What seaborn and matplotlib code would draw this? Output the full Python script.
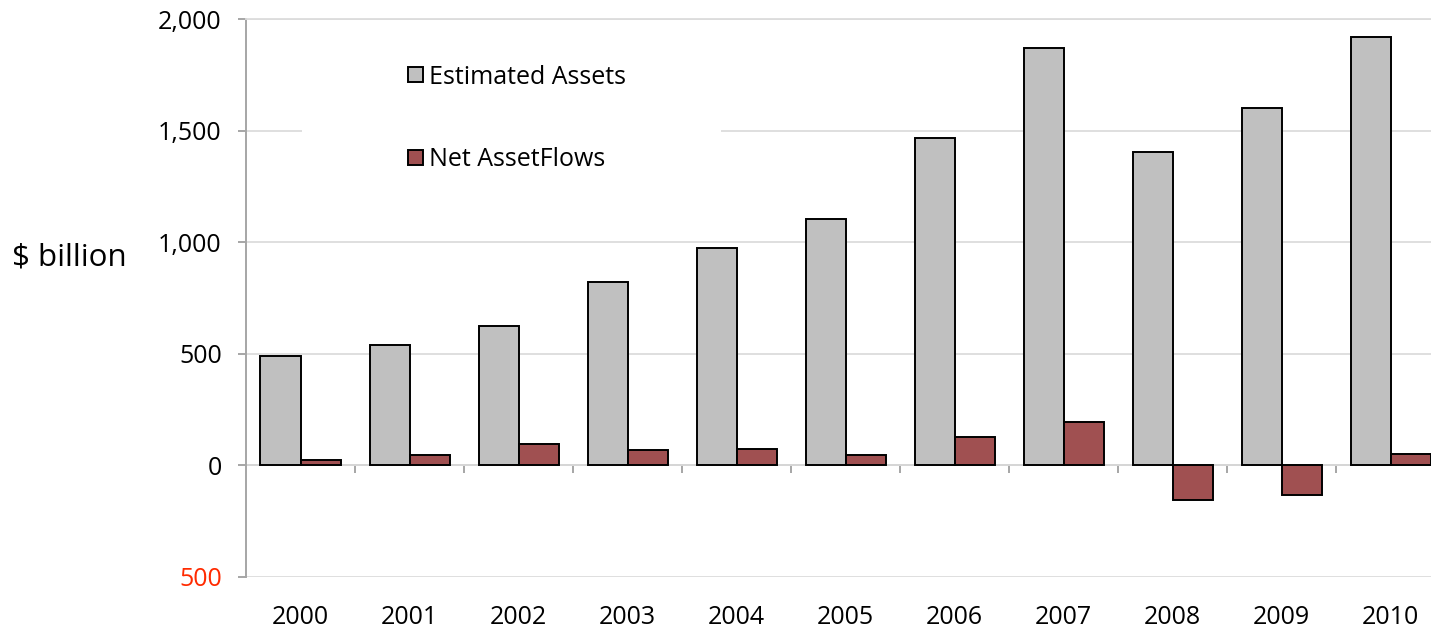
import matplotlib
matplotlib.use("Agg")
import matplotlib.pyplot as plt
import matplotlib.ticker as mticker
from matplotlib.path import Path
import seaborn as sns
import pandas as pd

years = ["2000", "2001", "2002", "2003", "2004", "2005",
         "2006", "2007", "2008", "2009", "2010"]
estimated_assets = [490, 540, 625, 820, 975, 1105, 1465, 1870, 1405, 1600, 1920]
net_asset_flows = [22, 45, 98, 71, 73, 45, 126, 193, -157, -132, 51]
series_names = ["Estimated Assets", "Net AssetFlows"]
y_ticks = [-500, 0, 500, 1000, 1500, 2000]

df = pd.DataFrame({
    "year": years * 2,
    "value": estimated_assets + net_asset_flows,
    "series": [series_names[0]] * len(years) + [series_names[1]] * len(years),
})

sns.set_theme(style="white")
plt.rcParams["font.family"] = ["Open Sans", "DejaVu Sans"]
plt.rcParams["text.color"] = "black"

GRID = "#DCDCDC"
AXIS = "#A6A6A6"

fig = plt.figure(figsize=(14.31, 6.31), dpi=100)
ax = fig.add_axes([246 / 1431, 54 / 631, 1 - 246 / 1431, 558 / 631])

palette = {series_names[0]: "#C0C0C0", series_names[1]: "#A05051"}
sns.barplot(data=df, x="year", y="value", hue="series", palette=palette,
            width=0.734, gap=0, edgecolor="black", linewidth=1.4,
            saturation=1, ax=ax, zorder=3)

ax.set_ylim(-500, 2000)
ax.set_xlim(-0.5, 10.37)
ax.set_yticks(y_ticks)
ax.yaxis.set_major_formatter(mticker.FuncFormatter(lambda v, p: f"{abs(v):,.0f}"))
ax.grid(axis="y", color=GRID, linewidth=1.3, zorder=0)
ax.grid(axis="x", visible=False)
ax.set_xlabel("")
ax.set_ylabel("")

# top edge doubles as the 2,000 gridline so it stays above the legend box
ax.spines["top"].set_color(GRID)
ax.spines["top"].set_linewidth(1.3)
for side in ["right", "bottom"]:
    ax.spines[side].set_visible(False)
ax.spines["left"].set_color(AXIS)
ax.spines["left"].set_linewidth(1.4)

ax.tick_params(axis="y", which="major", left=True, length=6, width=1.4,
               color=AXIS, labelsize=18, pad=11.5, labelcolor="black")
for lbl, v in zip(ax.get_yticklabels(), y_ticks):
    if v < 0:
        lbl.set_color("#FF2A00")

# year labels below the plot, without tick marks
ax.tick_params(axis="x", which="major", bottom=True, length=0,
               labelsize=18, pad=20, labelcolor="black")

# zero line carrying the category boundary ticks
zero_axis = ax.secondary_xaxis(0.2)
zero_axis.spines["bottom"].set_color(AXIS)
zero_axis.spines["bottom"].set_linewidth(1.4)
zero_axis.set_xticks([i + 0.5 for i in range(len(years) - 1)])
zero_axis.tick_params(axis="x", length=6, width=1.4, color=AXIS,
                      labelbottom=False, direction="out")

leg = ax.legend(loc="upper left", bbox_to_anchor=(0.126, 1 - 33 / 558),
                frameon=True, fontsize=18, handlelength=0.6, handleheight=0.55,
                handletextpad=0.25, labelspacing=2.3, borderpad=0.5,
                borderaxespad=0, labelcolor="black")


def wide_box(x0, y0, width, height, mutation_size):
    # white backing box, wider than the entries themselves
    left, right = 93, 82
    return Path([(x0 - left, y0), (x0 + width + right, y0),
                 (x0 + width + right, y0 + height), (x0 - left, y0 + height),
                 (x0 - left, y0)], closed=True)


frame = leg.get_frame()
frame.set_boxstyle(wide_box)
frame.set_facecolor("white")
frame.set_edgecolor("none")
frame.set_alpha(1)
leg.set_zorder(2)
for h in leg.legend_handles:
    h.set_edgecolor("black")
    h.set_linewidth(1.4)

fig.text(12 / 1431, 1 - 258 / 631, "$ billion", fontsize=22.5,
         ha="left", va="center", color="black")

fig.savefig("out.png", dpi=100, facecolor="white")
